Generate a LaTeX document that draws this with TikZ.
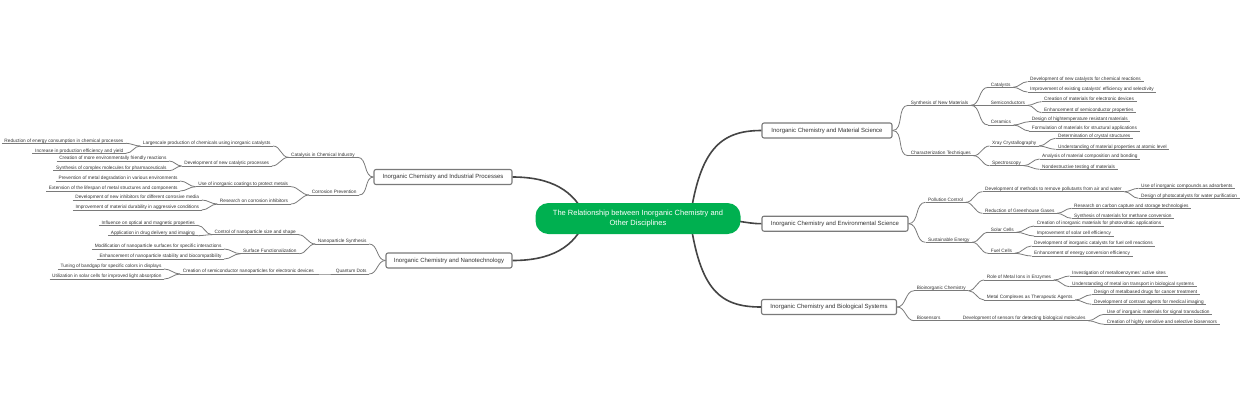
\documentclass[tikz,border=0pt]{standalone}
\usepackage{fontspec}
\setmainfont{Liberation Sans}
\definecolor{rootgreen}{HTML}{00B050}
\definecolor{maincon}{HTML}{444444}
\definecolor{brcol}{HTML}{7A7A7A}
\definecolor{boxcol}{HTML}{7A7A7A}
\definecolor{txtcol}{HTML}{333333}
\tikzset{
  rootnode/.style={fill=rootgreen, rounded corners=13pt, minimum width=205pt, minimum height=31pt,
    text=white, align=center, font=\fontsize{7.5}{10}\selectfont, inner sep=2pt},
  topicbox/.style={draw=boxcol, line width=1.1pt, rounded corners=2pt, fill=white,
    minimum height=15pt, text=txtcol, font=\fontsize{6}{7}\selectfont, inner sep=1pt},
  labelbase/.style={inner xsep=2.5pt, inner ysep=0.5pt, text height=3.6pt, text depth=0.5pt,
    text=txtcol, font=\fontsize{4.75}{5.5}\selectfont},
  rl/.style={labelbase, anchor=south west, xshift=-2.5pt},
  ll/.style={labelbase, anchor=south east, xshift=2.5pt},
  ul/.style={draw=brcol, line width=0.8pt},
  br/.style={draw=brcol, line width=0.8pt},
  mainc/.style={draw=maincon, line width=1.6pt}
}
\newcommand\RB[5]{%
  \node[rl] (#1) at (#3,#4) {#5};
  \draw[ul] (#1.south west) -- (#1.south east);
  \draw[br] (#2) to[out=0,in=180] (#1.south west);}
\newcommand\LB[5]{%
  \node[ll] (#1) at (#3,#4) {#5};
  \draw[ul] (#1.south west) -- (#1.south east);
  \draw[br] (#2) to[out=180,in=0] (#1.south east);}
\begin{document}
\begin{tikzpicture}[x=1pt,y=-1pt]
\useasboundingbox (0,0) rectangle (1240,400);
\fill[white] (0,0) rectangle (1240,400);

% topics
\node[topicbox, minimum width=130pt] (mat) at (827,130.5) {Inorganic Chemistry and Material Science};
\node[topicbox, minimum width=146pt] (env) at (835,223.7) {Inorganic Chemistry and Environmental Science};
\node[topicbox, minimum width=135pt] (bio) at (829,307) {Inorganic Chemistry and Biological Systems};
\node[topicbox, minimum width=138pt] (ind) at (443,177) {Inorganic Chemistry and Industrial Processes};
\node[topicbox, minimum width=126pt] (nano) at (449,260.5) {Inorganic Chemistry and Nanotechnology};

% main connectors
\coordinate (cR) at (690,218.5);
\coordinate (cL) at (586,218.5);
\draw[mainc] (cR) .. controls (700,150) and (720,130.5) .. (mat.west);
\draw[mainc] (cR) .. controls (740,219) and (745,223.7) .. (env.west);
\draw[mainc] (cR) .. controls (700,290) and (720,307) .. (bio.west);
\draw[mainc] (cL) .. controls (575,190) and (550,177) .. (ind.east);
\draw[mainc] (cL) .. controls (575,248) and (550,260.5) .. (nano.east);

\node[rootnode] (ctr) at (638,218.5) {The Relationship between Inorganic Chemistry and\\Other Disciplines};

% Material Science
\RB{m1}{mat.east}{910.7}{105.3}{Synthesis of New Materials}
\RB{m11}{m1.south east}{990.7}{87.3}{Catalysts}
\RB{m111}{m11.south east}{1030}{81.7}{Development of new catalysts for chemical reactions}
\RB{m112}{m11.south east}{1030}{92}{Improvement of existing catalysts' efficiency and selectivity}
\RB{m12}{m1.south east}{990.7}{105.3}{Semiconductors}
\RB{m121}{m12.south east}{1044}{101.7}{Creation of materials for electronic devices}
\RB{m122}{m12.south east}{1044}{112.7}{Enhancement of semiconductor properties}
\RB{m13}{m1.south east}{990.7}{125}{Ceramics}
\RB{m131}{m13.south east}{1031.7}{121.7}{Design of hightemperature resistant materials}
\RB{m132}{m13.south east}{1031.7}{131}{Formulation of materials for structural applications}
\RB{m2}{mat.east}{910.7}{155.7}{Characterization Techniques}
\RB{m21}{m2.south east}{992}{146}{Xray Crystallography}
\RB{m211}{m21.south east}{1058}{138.3}{Determination of crystal structures}
\RB{m212}{m21.south east}{1058}{149.3}{Understanding of material properties at atomic level}
\RB{m22}{m2.south east}{992}{165.7}{Spectroscopy}
\RB{m221}{m22.south east}{1042}{159}{Analysis of material composition and bonding}
\RB{m222}{m22.south east}{1042}{169.3}{Nondestructive testing of materials}

% Environmental Science
\RB{e1}{env.east}{928}{202.3}{Pollution Control}
\RB{e11}{e1.south east}{985}{191.7}{Development of methods to remove pollutants from air and water}
\RB{e111}{e11.south east}{1141}{188.3}{Use of inorganic compounds as adsorbents}
\RB{e112}{e11.south east}{1141}{198.3}{Design of photocatalysts for water purification}
\RB{e12}{e1.south east}{985}{213.3}{Reduction of Greenhouse Gases}
\RB{e121}{e12.south east}{1074}{208.3}{Research on carbon capture and storage technologies}
\RB{e122}{e12.south east}{1074}{218.3}{Synthesis of materials for methane conversion}
\RB{e2}{env.east}{928}{242.3}{Sustainable Energy}
\RB{e21}{e2.south east}{990.7}{232.3}{Solar Cells}
\RB{e211}{e21.south east}{1036.7}{226}{Creation of inorganic materials for photovoltaic applications}
\RB{e212}{e21.south east}{1036.7}{236}{Improvement of solar cell efficiency}
\RB{e22}{e2.south east}{990.7}{253.3}{Fuel Cells}
\RB{e221}{e22.south east}{1034}{246}{Development of inorganic catalysts for fuel cell reactions}
\RB{e222}{e22.south east}{1034}{256}{Enhancement of energy conversion efficiency}

% Biological Systems
\RB{b1}{bio.east}{916.7}{290.7}{Bioinorganic Chemistry}
\RB{b11}{b1.south east}{986.7}{280}{Role of Metal Ions in Enzymes}
\RB{b111}{b11.south east}{1072}{276}{Investigation of metalloenzymes' active sites}
\RB{b112}{b11.south east}{1072}{286.7}{Understanding of metal ion transport in biological systems}
\RB{b12}{b1.south east}{986.7}{300}{Metal Complexes as Therapeutic Agents}
\RB{b121}{b12.south east}{1094}{294.7}{Design of metalbased drugs for cancer treatment}
\RB{b122}{b12.south east}{1094}{304.3}{Development of contrast agents for medical imaging}
\RB{b2}{bio.east}{916.7}{320.7}{Biosensors}
\RB{b21}{b2.south east}{962.7}{320.7}{Development of sensors for detecting biological molecules}
\RB{b211}{b21.south east}{1106.7}{314.3}{Use of inorganic materials for signal transduction}
\RB{b212}{b21.south east}{1106.7}{324.3}{Creation of highly sensitive and selective biosensors}

% Industrial Processes
\LB{i1}{ind.west}{355}{157.3}{Catalysis in Chemical Industry}
\LB{i11}{i1.south west}{270.7}{146}{Largescale production of chemicals using inorganic catalysts}
\LB{i111}{i11.south west}{123.5}{143.3}{Reduction of energy consumption in chemical processes}
\LB{i112}{i11.south west}{123.5}{153.3}{Increase in production efficiency and yield}
\LB{i12}{i1.south west}{269.3}{166}{Development of new catalytic processes}
\LB{i121}{i12.south west}{166.7}{161}{Creation of more environmentally friendly reactions}
\LB{i122}{i12.south west}{166.7}{170.7}{Synthesis of complex molecules for pharmaceuticals}
\LB{i2}{ind.west}{356.7}{195}{Corrosion Prevention}
\LB{i21}{i2.south west}{288.3}{186.7}{Use of inorganic coatings to protect metals}
\LB{i211}{i21.south west}{177.7}{181}{Prevention of metal degradation in various environments}
\LB{i212}{i21.south west}{177.7}{191}{Extension of the lifespan of metal structures and components}
\LB{i22}{i2.south west}{288.3}{204}{Research on corrosion inhibitors}
\LB{i221}{i22.south west}{199.3}{200}{Development of new inhibitors for different corrosive media}
\LB{i222}{i22.south west}{199.3}{210}{Improvement of material durability in aggressive conditions}

% Nanotechnology
\LB{n1}{nano.west}{366.7}{244}{Nanoparticle Synthesis}
\LB{n11}{n1.south west}{296}{234.7}{Control of nanoparticle size and shape}
\LB{n111}{n11.south west}{195}{225.3}{Influence on optical and magnetic properties}
\LB{n112}{n11.south west}{195}{235.7}{Application in drug delivery and imaging}
\LB{n12}{n1.south west}{296.7}{253.7}{Surface Functionalization}
\LB{n121}{n12.south west}{221.7}{249}{Modification of nanoparticle surfaces for specific interactions}
\LB{n122}{n12.south west}{221.7}{259}{Enhancement of nanoparticle stability and biocompatibility}
\LB{n2}{nano.west}{366.7}{274}{Quantum Dots}
\LB{n21}{n2.south west}{314}{274}{Creation of semiconductor nanoparticles for electronic devices}
\LB{n211}{n21.south west}{161.7}{269}{Tuning of bandgap for specific colors in displays}
\LB{n212}{n21.south west}{161.7}{279}{Utilization in solar cells for improved light absorption}
\end{tikzpicture}
\end{document}
